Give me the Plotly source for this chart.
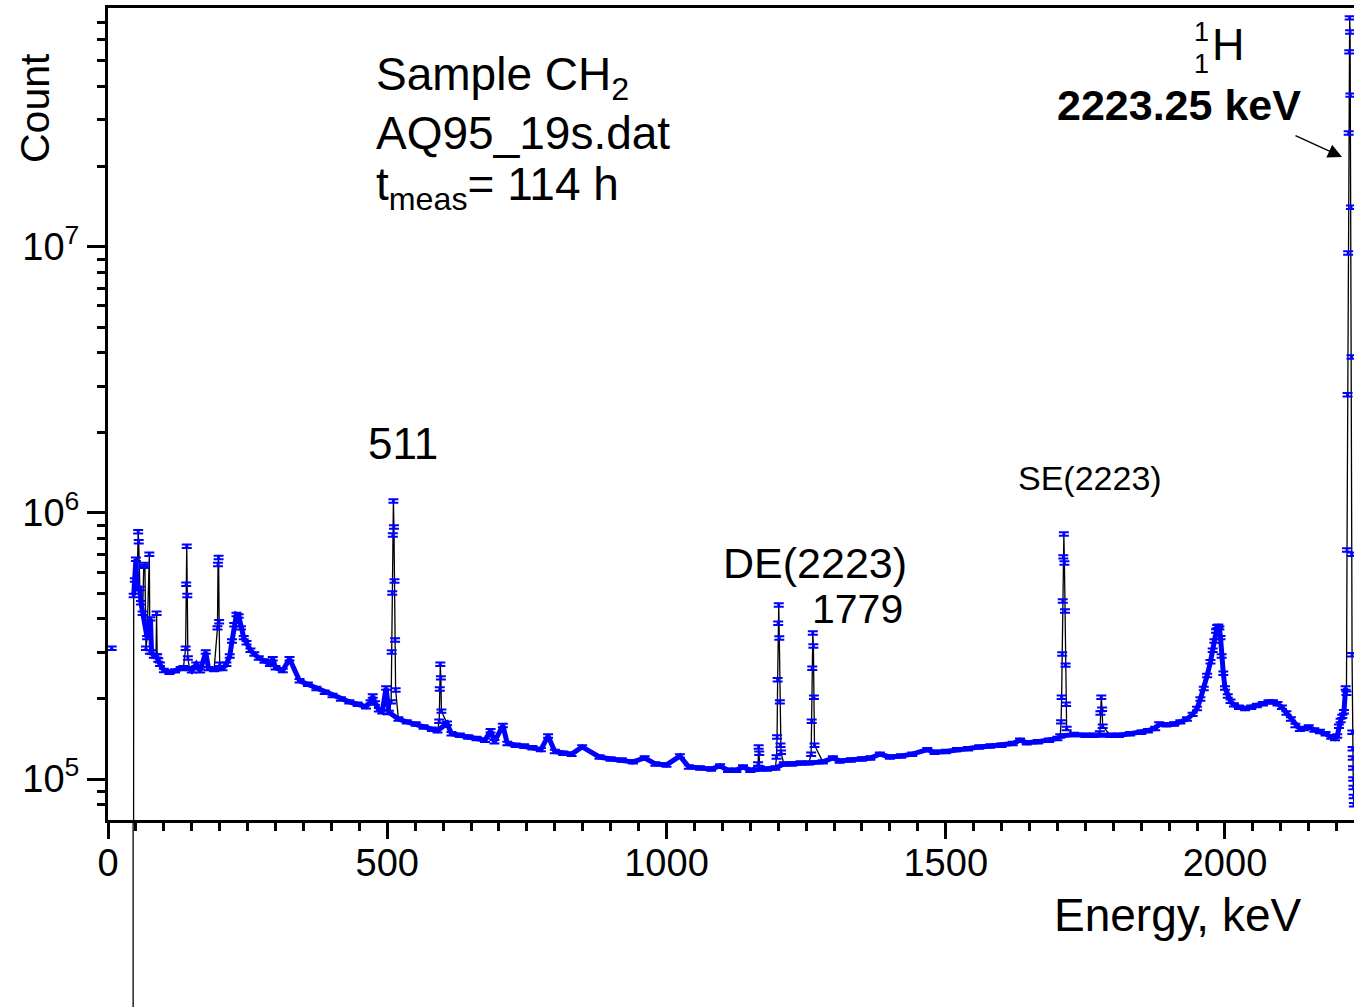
import plotly.graph_objects as go

# ---------------- data ----------------
# smooth continuum (energy in keV, counts)
cont_energy = [6.6, 25, 45, 46, 48, 50, 52, 57, 59, 62, 70, 76, 78, 82, 86, 90, 93,
               100, 110, 120, 130, 135, 146, 150, 158, 165, 175, 180, 190, 205,
               212, 218, 222, 226, 230, 234, 238, 243, 248, 255, 262, 270, 280,
               290, 295, 300, 313, 325, 343, 358, 373, 388, 402, 417, 432, 447,
               462, 470, 474, 478, 485, 491, 498, 503, 520, 535, 551, 565, 580,
               590, 607, 615, 630, 645, 660, 675, 685, 692, 707, 715, 730, 745,
               760, 775, 788, 800, 815, 830, 849, 880, 900, 920, 940, 961, 980,
               1000, 1024, 1040, 1060, 1080, 1096, 1110, 1125, 1137, 1150, 1180,
               1195, 1210, 1225, 1240, 1255, 1280, 1298, 1310, 1330, 1350, 1365,
               1382, 1400, 1420, 1440, 1467, 1480, 1500, 1520, 1540, 1560, 1580,
               1600, 1620, 1633, 1645, 1665, 1685, 1700, 1705, 1730, 1750, 1765,
               1795, 1810, 1830, 1850, 1862, 1875, 1882, 1895, 1909, 1920, 1932,
               1942, 1950, 1956, 1962, 1968, 1974, 1978, 1981, 1984, 1986, 1988,
               1990, 1992, 1994, 1997, 2000, 2005, 2010, 2016, 2025, 2036, 2047,
               2057, 2068, 2078, 2086, 2094, 2102, 2110, 2118, 2126, 2134, 2142,
               2150, 2160, 2170, 2180, 2190, 2197, 2201, 2204, 2207, 2210, 2213,
               2216]
cont_counts = [3.1e5, None, 2, 4.9e5, 5.6e5, 6.7e5, 5.2e5, 5.2e5, 4.6e5, 4.2e5, 3.4e5, 4.0e5,
               3.0e5, 2.9e5, 2.9e5, 2.8e5, 2.7e5,
               2.56e5, 2.52e5, 2.55e5, 2.6e5, 2.62e5, 2.6e5, 2.55e5, 2.7e5, 2.55e5,
               3.0e5, 2.6e5, 2.58e5, 2.6e5,
               2.7e5, 2.9e5, 3.3e5, 3.8e5, 4.15e5, 4.1e5, 3.7e5, 3.4e5, 3.25e5,
               3.05e5, 2.95e5, 2.85e5, 2.78e5,
               2.7e5, 2.83e5, 2.62e5, 2.56e5, 2.83e5, 2.34e5, 2.27e5, 2.19e5, 2.12e5,
               2.06e5, 2.0e5, 1.95e5, 1.91e5,
               1.87e5, 1.95e5, 2.05e5, 1.93e5, 1.82e5, 1.79e5, 2.2e5, 1.78e5, 1.68e5,
               1.64e5, 1.61e5, 1.57e5, 1.54e5,
               1.52e5, 1.62e5, 1.48e5, 1.46e5, 1.44e5, 1.42e5, 1.40e5, 1.52e5, 1.38e5,
               1.59e5, 1.36e5, 1.34e5, 1.33e5,
               1.31e5, 1.29e5, 1.45e5, 1.27e5, 1.25e5, 1.24e5, 1.32e5, 1.21e5, 1.19e5,
               1.18e5, 1.16e5, 1.2e5, 1.14e5,
               1.13e5, 1.22e5, 1.11e5, 1.10e5, 1.09e5, 1.12e5, 1.08e5, 1.08e5, 1.11e5,
               1.08e5, 1.09e5,
               1.10e5, 1.14e5, 1.14e5, 1.15e5, 1.15e5, 1.16e5, 1.2e5, 1.17e5, 1.18e5,
               1.19e5, 1.20e5,
               1.24e5, 1.21e5, 1.22e5, 1.24e5, 1.29e5, 1.26e5, 1.27e5, 1.29e5, 1.30e5,
               1.32e5, 1.33e5,
               1.34e5, 1.36e5, 1.40e5, 1.37e5, 1.38e5, 1.40e5, 1.42e5, 1.45e5, 1.47e5,
               1.46e5, 1.46e5,
               1.46e5, 1.46e5, 1.48e5, 1.50e5, 1.52e5, 1.55e5, 1.61e5, 1.60e5, 1.61e5,
               1.64e5, 1.68e5,
               1.75e5, 1.84e5, 2.0e5, 2.19e5, 2.45e5, 2.76e5, 3.05e5, 3.3e5, 3.6e5,
               3.74e5, 3.75e5,
               3.7e5, 3.4e5, 2.9e5, 2.5e5, 2.2e5, 2.05e5, 1.96e5, 1.9e5, 1.86e5,
               1.84e5, 1.86e5,
               1.89e5, 1.92e5, 1.95e5, 1.95e5, 1.92e5, 1.86e5, 1.77e5, 1.68e5, 1.59e5,
               1.54e5, 1.55e5,
               1.57e5, 1.53e5, 1.51e5, 1.48e5, 1.44e5, 1.42e5, 1.45e5, 1.58e5, 1.66e5,
               1.72e5, 1.79e5,
               2.2e5]

# narrow peaks (energy, counts)
peak_energy = [54, 55, 64, 66, 68, 74, 75, 87, 88,
               139, 140, 141, 142, 143,
               196, 197, 198, 199, 200,
               507, 508, 509, 510, 511, 512, 513, 514, 515,
               593, 594, 595, 596, 597,
               1164, 1165, 1166, 1167,
               1197, 1198, 1199, 1200, 1201, 1202, 1203, 1204, 1205,
               1259, 1260, 1261, 1262, 1263, 1264, 1265,
               1706.5, 1707.5, 1708.5, 1709.5, 1710.5, 1711.5, 1712.5, 1713.5,
               1714.5, 1715.5, 1716.5,
               1776, 1777, 1778.5, 1780, 1781,
               2217.5, 2218.5, 2219.5, 2220.5, 2221.5, 2222.5, 2223.25, 2224,
               2224.5, 2225.5, 2226.5, 2227, 2227.5, 2228, 2228.4, 2228.8, 2229.2,
               2229.6, 2230.0, 2230.4, 2230.8]
peak_counts = [8.5e5, 7.8e5, 6.3e5, 6.4e5, 3.1e5, 7.0e5, 3.0e5, 4.2e5, 2.9e5,
               3.1e5, 5.4e5, 7.5e5, 4.9e5, 2.85e5,
               3.7e5, 6.4e5, 6.8e5, 3.9e5, 2.7e5,
               1.95e5, 3.0e5, 5.0e5, 8.26e5, 1.11e6, 8.85e5, 5.55e5, 3.33e5, 2.16e5,
               1.65e5, 2.18e5, 2.7e5, 2.4e5, 1.8e5,
               1.14e5, 1.32e5, 1.25e5, 1.10e5,
               1.21e5, 1.44e5, 2.36e5, 3.85e5, 4.51e5, 3.39e5, 1.95e5, 1.34e5, 1.26e5,
               1.24e5, 1.65e5, 2.61e5, 3.54e5, 3.16e5, 2.03e5, 1.34e5,
               1.64e5, 2.03e5, 2.95e5, 4.67e5, 6.84e5, 8.34e5, 6.49e5, 4.28e5,
               2.68e5, 1.91e5, 1.55e5,
               1.49e5, 1.77e5, 2.03e5, 1.83e5, 1.58e5,
               2.1e5, 7.26e5, 2.78e6, 9.49e6, 2.68e7, 5.41e7, 7.26e7, 6.43e7,
               3.72e7, 1.41e7, 3.86e6, 7.0e5, 2.93e5, 1.5e5, 1.3e5, 1.2e5, 1.1e5,
               1.0e5, 9.3e4, 8.6e4, 8.0e4]

x_tick_vals = [0, 500, 1000, 1500, 2000]
y_tick_vals = [1e5, 1e6, 1e7]
y_tick_text = ["10<sup>5</sup>", "10<sup>6</sup>", "10<sup>7</sup>"]
y_minor_vals = [m * 10 ** p for p in (4, 5, 6, 7) for m in range(2, 10)]

# merge continuum and peaks, sorted by energy
pairs = sorted(zip(cont_energy + peak_energy, cont_counts + peak_counts), key=lambda t: t[0])
energy = [p[0] for p in pairs]
counts = [p[1] for p in pairs]

# ---------------- figure ----------------
W, H = 1354, 1007
L, R, T, B = 108, 0, 8, 187
FONT = "Liberation Sans, Arial, sans-serif"
BLUE = "#0000ff"


def px(x, y):
    return (x - L) / (W - L - R), (H - B - y) / (H - B - T)


fig = go.Figure()
# thin black connecting line through all channels
fig.add_trace(go.Scatter(
    x=energy, y=counts, mode="lines",
    line=dict(color="black", width=1.3),
    connectgaps=False, showlegend=False, hoverinfo="skip",
))
# dense blue band of the continuum channels
fig.add_trace(go.Scatter(
    x=cont_energy[3:], y=cont_counts[3:], mode="lines",
    line=dict(color=BLUE, width=5),
    showlegend=False, hoverinfo="skip",
))
# blue error-bar markers on every channel
fig.add_trace(go.Scatter(
    x=energy, y=counts, mode="markers",
    marker=dict(color=BLUE, size=3),
    error_y=dict(type="percent", value=1.5, color=BLUE, thickness=2, width=5),
    showlegend=False,
))

# low-energy line continuing below the axis
fig.add_shape(type="line", xref="x", yref="paper", x0=cont_energy[2], x1=cont_energy[2],
              y0=-0.3, y1=0, line=dict(color="black", width=1.3))

ann = []


def text(t, x, y, size=42, xanchor="center", yanchor="middle", **kw):
    xp, yp = px(x, y)
    ann.append(dict(text=t, x=xp, y=yp, xref="paper", yref="paper", showarrow=False,
                    xanchor=xanchor, yanchor=yanchor,
                    font=dict(family=FONT, size=size, color="black"), **kw))


text("Count", 35, 108, size=41, textangle=-90)
text("Energy, keV", 1177, 915, size=46)
text("Sample CH<sub>2</sub>", 374, 78, size=46, xanchor="left")
text("AQ95_19s.dat", 374, 133, size=46, xanchor="left")
text("t<sub>meas</sub>= 114 h", 374, 188, size=46, xanchor="left")
text("511", 403, 443, size=44)
text("DE(2223)", 815, 563, size=43)
text("1779", 905, 609, size=41, xanchor="right")
text("SE(2223)", 1090, 478, size=34)
text("H", 1228, 45, size=45)
text("1", 1201, 32, size=27)
text("1", 1201, 64, size=27)
text("<b>2223.25 keV</b>", 1179, 105, size=43)

hx, hy = px(1342, 157)
ann.append(dict(x=hx, y=hy, xref="paper", yref="paper", text="", showarrow=True,
                ax=-48, ay=-22, arrowhead=2, arrowsize=2, arrowwidth=1.4,
                arrowcolor="black"))

fig.update_layout(
    width=W, height=H,
    margin=dict(l=L, r=R, t=T, b=B, pad=0),
    paper_bgcolor="white", plot_bgcolor="white",
    font=dict(family=FONT, size=38, color="black"),
    annotations=ann,
    xaxis=dict(range=[0, 2231], tickmode="array", tickvals=x_tick_vals,
               ticks="outside", ticklen=16, tickwidth=3, tickcolor="black",
               showline=True, linewidth=3, linecolor="black", mirror=True,
               showgrid=False, zeroline=False,
               tickfont=dict(size=38), ticklabelstandoff=-9,
               minor=dict(dtick=50, tick0=0, ticks="outside", ticklen=8, tickwidth=2.5,
                          tickcolor="black", showgrid=False)),
    yaxis=dict(type="log", range=[4.846, 7.898], tickmode="array",
               tickvals=y_tick_vals, ticktext=y_tick_text,
               ticks="outside", ticklen=18, tickwidth=3, tickcolor="black",
               showline=True, linewidth=3, linecolor="black", mirror=False,
               showgrid=False, zeroline=False,
               tickfont=dict(size=38),
               minor=dict(tickmode="array", tickvals=y_minor_vals, ticks="outside",
                          ticklen=8, tickwidth=2.5, tickcolor="black", showgrid=False)),
)

fig.write_html("out.html")
